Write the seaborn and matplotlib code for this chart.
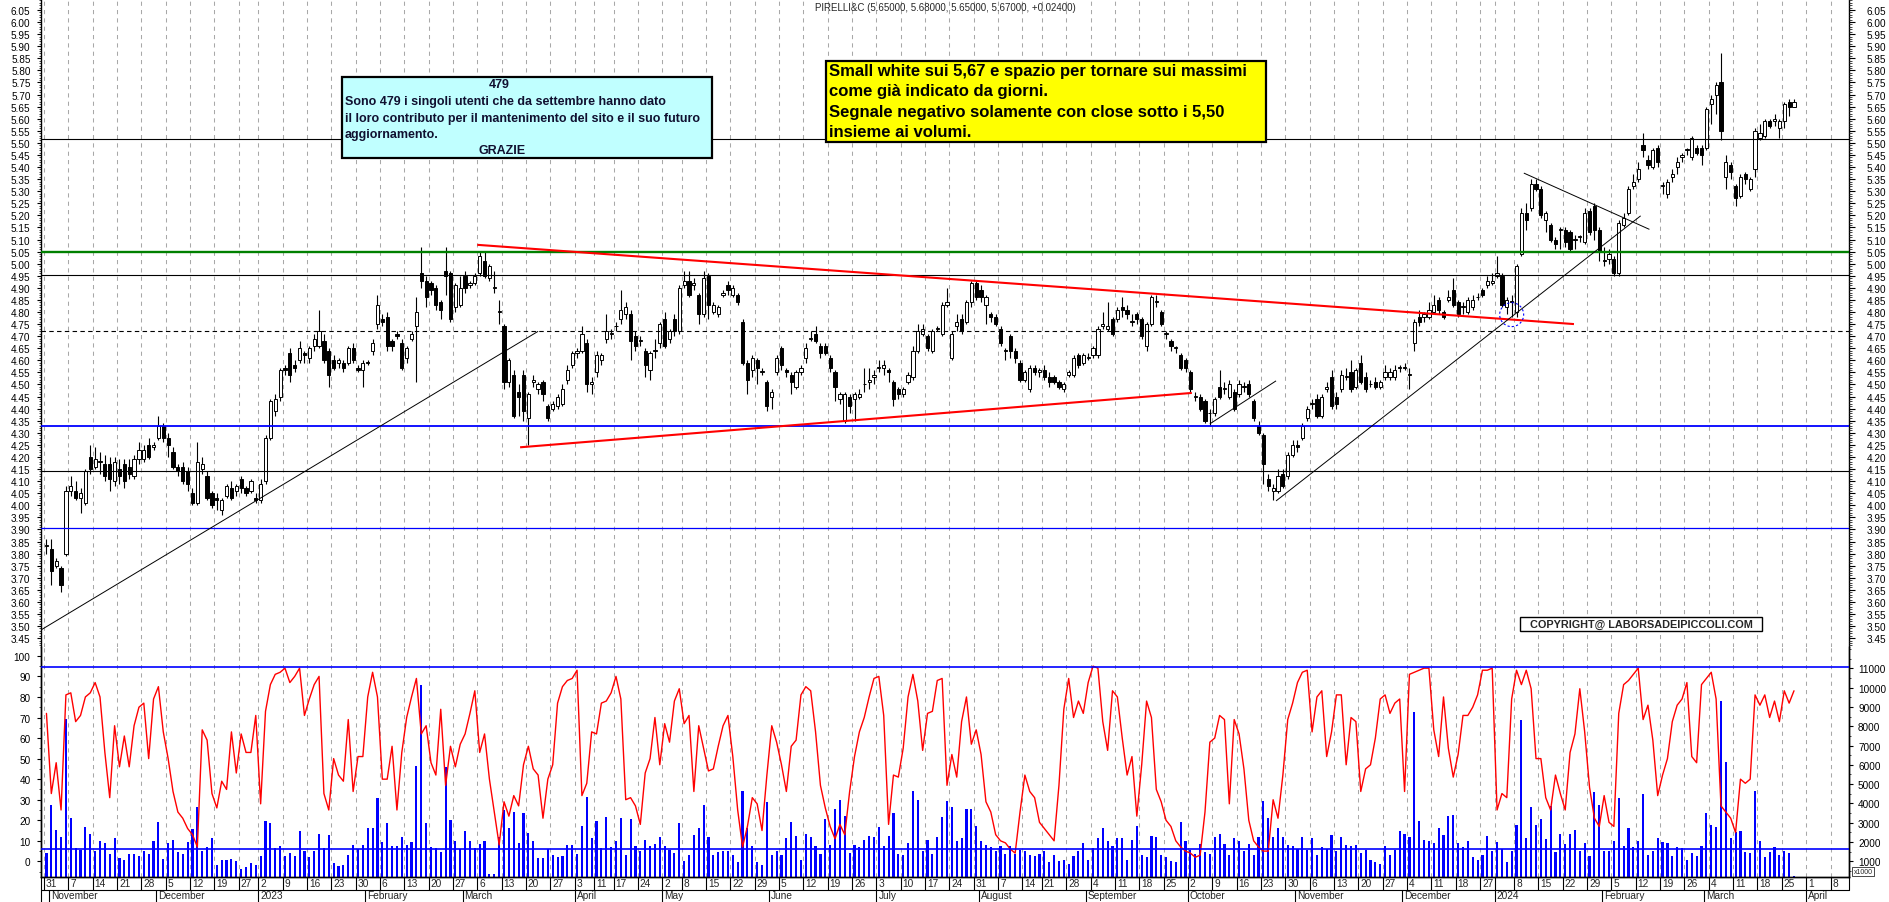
import numpy as np
import pandas as pd
import matplotlib
matplotlib.use("Agg")
import matplotlib.pyplot as plt
from matplotlib.patches import Rectangle, Ellipse
from matplotlib.ticker import MultipleLocator, FormatStrFormatter, FixedLocator
import seaborn as sns

# ==========================================
# Data (daily candles, 31 Oct 2022 - 27 Mar 2024)
# ==========================================

opens = [
    3.83, 3.82, 3.75, 3.74, 3.80, 4.06, 4.06, 4.03, 4.01, 4.20,
    4.16, 4.18, 4.17, 4.17, 4.10, 4.15, 4.17, 4.16, 4.12, 4.19,
    4.19, 4.25, 4.24, 4.28, 4.33, 4.28, 4.22, 4.16, 4.16, 4.14,
    4.05, 4.01, 4.15, 4.12, 4.05, 4.03, 3.98, 4.04, 4.07, 4.06,
    4.11, 4.07, 4.06, 4.03, 4.02, 4.10, 4.28, 4.39, 4.45, 4.57,
    4.63, 4.58, 4.60, 4.63, 4.61, 4.66, 4.66, 4.68, 4.64, 4.60,
    4.59, 4.59, 4.59, 4.65, 4.57, 4.56, 4.59, 4.64, 4.75, 4.77,
    4.78, 4.68, 4.71, 4.67, 4.61, 4.69, 4.74, 4.96, 4.93, 4.92,
    4.90, 4.84, 4.97, 4.96, 4.82, 4.83, 4.95, 4.91, 4.92, 4.96,
    5.01, 4.94, 4.90, 4.80, 4.74, 4.51, 4.54, 4.47, 4.54, 4.36,
    4.51, 4.48, 4.51, 4.41, 4.40, 4.41, 4.42, 4.52, 4.58, 4.63,
    4.64, 4.67, 4.50, 4.55, 4.60, 4.69, 4.71, 4.74, 4.77, 4.79,
    4.79, 4.70, 4.68, 4.64, 4.56, 4.64, 4.67, 4.77, 4.69, 4.77,
    4.72, 4.91, 4.93, 4.91, 4.87, 4.79, 4.95, 4.80, 4.79, 4.87,
    4.91, 4.87, 4.87, 4.76, 4.59, 4.56, 4.60, 4.55, 4.51, 4.45,
    4.55, 4.65, 4.56, 4.54, 4.49, 4.55, 4.61, 4.69, 4.71, 4.66,
    4.66, 4.61, 4.55, 4.44, 4.35, 4.45, 4.44, 4.45, 4.50, 4.51,
    4.53, 4.57, 4.57, 4.56, 4.51, 4.48, 4.46, 4.51, 4.53, 4.64,
    4.71, 4.70, 4.64, 4.73, 4.71, 4.83, 4.61, 4.74, 4.77, 4.76,
    4.84, 4.92, 4.89, 4.83, 4.79, 4.78, 4.73, 4.64, 4.70, 4.64,
    4.59, 4.52, 4.48, 4.57, 4.55, 4.56, 4.53, 4.53, 4.51, 4.48,
    4.54, 4.54, 4.62, 4.59, 4.61, 4.62, 4.62, 4.74, 4.73, 4.77,
    4.77, 4.82, 4.81, 4.76, 4.79, 4.77, 4.66, 4.75, 4.84, 4.80,
    4.71, 4.68, 4.65, 4.62, 4.60, 4.55, 4.45, 4.45, 4.43, 4.38,
    4.38, 4.49, 4.48, 4.45, 4.47, 4.46, 4.49, 4.50, 4.43, 4.33,
    4.29, 4.11, 4.06, 4.06, 4.13, 4.12, 4.21, 4.25, 4.28, 4.36,
    4.42, 4.44, 4.37, 4.48, 4.53, 4.45, 4.48, 4.53, 4.55, 4.49,
    4.59, 4.53, 4.50, 4.51, 4.49, 4.53, 4.53, 4.53, 4.57, 4.57,
    4.54, 4.67, 4.78, 4.78, 4.78, 4.80, 4.85, 4.80, 4.85, 4.89,
    4.84, 4.82, 4.80, 4.82, 4.86, 4.89, 4.91, 4.92, 4.95, 4.95,
    4.82, 4.84, 4.80, 5.04, 5.21, 5.23, 5.33, 5.31, 5.18, 5.16,
    5.10, 5.14, 5.14, 5.13, 5.10, 5.11, 5.09, 5.22, 5.24, 5.14,
    5.01, 5.02, 5.02, 4.96, 5.16, 5.21, 5.32, 5.35, 5.49, 5.43,
    5.40, 5.48, 5.32, 5.29, 5.36, 5.40, 5.44, 5.47, 5.44, 5.48,
    5.48, 5.48, 5.66, 5.70, 5.75, 5.36, 5.41, 5.32, 5.28, 5.37,
    5.31, 5.39, 5.52, 5.53, 5.59, 5.59, 5.56, 5.59, 5.67, 5.65,
]

highs = [
    3.86, 3.86, 3.78, 3.75, 4.08, 4.12, 4.10, 4.07, 4.15, 4.25,
    4.24, 4.22, 4.21, 4.20, 4.20, 4.19, 4.19, 4.19, 4.21, 4.26,
    4.25, 4.28, 4.26, 4.37, 4.34, 4.30, 4.24, 4.17, 4.18, 4.16,
    4.07, 4.26, 4.20, 4.14, 4.06, 4.05, 4.03, 4.09, 4.10, 4.09,
    4.12, 4.08, 4.11, 4.05, 4.11, 4.29, 4.44, 4.46, 4.57, 4.58,
    4.65, 4.60, 4.68, 4.64, 4.66, 4.71, 4.81, 4.71, 4.65, 4.62,
    4.61, 4.60, 4.66, 4.67, 4.58, 4.60, 4.60, 4.69, 4.87, 4.79,
    4.80, 4.69, 4.72, 4.69, 4.66, 4.72, 4.86, 5.07, 4.95, 4.93,
    4.91, 4.85, 5.07, 4.97, 4.92, 4.95, 4.97, 4.93, 4.96, 5.05,
    5.05, 5.00, 4.97, 4.85, 4.75, 4.61, 4.56, 4.50, 4.56, 4.47,
    4.54, 4.51, 4.52, 4.42, 4.43, 4.46, 4.50, 4.58, 4.64, 4.65,
    4.74, 4.69, 4.53, 4.64, 4.63, 4.79, 4.73, 4.76, 4.89, 4.84,
    4.81, 4.72, 4.70, 4.65, 4.64, 4.69, 4.76, 4.80, 4.73, 4.79,
    4.91, 4.97, 4.97, 4.94, 4.88, 4.97, 4.96, 4.84, 4.83, 4.89,
    4.93, 4.91, 4.88, 4.77, 4.60, 4.62, 4.61, 4.57, 4.52, 4.48,
    4.62, 4.66, 4.57, 4.55, 4.56, 4.58, 4.67, 4.72, 4.74, 4.67,
    4.67, 4.62, 4.56, 4.47, 4.47, 4.46, 4.47, 4.48, 4.57, 4.57,
    4.56, 4.60, 4.60, 4.57, 4.52, 4.49, 4.49, 4.55, 4.66, 4.75,
    4.75, 4.71, 4.73, 4.74, 4.84, 4.90, 4.72, 4.79, 4.79, 4.85,
    4.93, 4.93, 4.91, 4.87, 4.80, 4.79, 4.74, 4.65, 4.71, 4.65,
    4.60, 4.56, 4.58, 4.58, 4.57, 4.58, 4.55, 4.54, 4.52, 4.51,
    4.56, 4.62, 4.63, 4.63, 4.63, 4.66, 4.74, 4.80, 4.84, 4.78,
    4.82, 4.86, 4.83, 4.79, 4.80, 4.78, 4.76, 4.87, 4.87, 4.81,
    4.72, 4.69, 4.66, 4.63, 4.61, 4.56, 4.47, 4.46, 4.44, 4.40,
    4.45, 4.56, 4.51, 4.52, 4.48, 4.52, 4.51, 4.52, 4.44, 4.35,
    4.30, 4.13, 4.09, 4.15, 4.15, 4.22, 4.27, 4.27, 4.34, 4.41,
    4.44, 4.46, 4.46, 4.51, 4.56, 4.47, 4.56, 4.57, 4.60, 4.57,
    4.62, 4.55, 4.52, 4.53, 4.52, 4.58, 4.57, 4.58, 4.58, 4.59,
    4.57, 4.77, 4.81, 4.80, 4.84, 4.87, 4.86, 4.81, 4.89, 4.94,
    4.85, 4.84, 4.86, 4.87, 4.88, 4.90, 4.95, 4.96, 5.03, 4.96,
    4.86, 4.87, 5.00, 5.23, 5.25, 5.35, 5.35, 5.32, 5.22, 5.17,
    5.11, 5.15, 5.15, 5.14, 5.12, 5.12, 5.23, 5.23, 5.25, 5.15,
    5.07, 5.06, 5.03, 5.18, 5.21, 5.32, 5.37, 5.42, 5.54, 5.45,
    5.48, 5.49, 5.34, 5.35, 5.39, 5.44, 5.46, 5.48, 5.53, 5.49,
    5.49, 5.65, 5.70, 5.75, 5.87, 5.45, 5.42, 5.33, 5.37, 5.38,
    5.36, 5.56, 5.58, 5.60, 5.60, 5.62, 5.60, 5.67, 5.68, 5.68,
]

lows = [
    3.80, 3.67, 3.74, 3.64, 3.79, 4.04, 4.02, 3.97, 4.00, 4.13,
    4.15, 4.13, 4.10, 4.06, 4.08, 4.09, 4.07, 4.11, 4.11, 4.17,
    4.18, 4.19, 4.23, 4.27, 4.26, 4.20, 4.15, 4.12, 4.09, 4.06,
    4.00, 4.00, 4.13, 4.02, 3.99, 3.98, 3.96, 4.03, 4.02, 4.04,
    4.05, 4.04, 4.05, 4.01, 4.01, 4.09, 4.27, 4.37, 4.43, 4.54,
    4.51, 4.55, 4.59, 4.59, 4.59, 4.64, 4.65, 4.59, 4.49, 4.56,
    4.57, 4.55, 4.58, 4.59, 4.55, 4.49, 4.58, 4.62, 4.73, 4.74,
    4.64, 4.64, 4.69, 4.56, 4.59, 4.68, 4.51, 4.90, 4.82, 4.87,
    4.81, 4.77, 4.87, 4.76, 4.80, 4.82, 4.88, 4.90, 4.91, 4.95,
    4.94, 4.93, 4.88, 4.75, 4.48, 4.49, 4.36, 4.37, 4.35, 4.25,
    4.49, 4.46, 4.43, 4.35, 4.39, 4.40, 4.41, 4.50, 4.57, 4.61,
    4.63, 4.47, 4.46, 4.53, 4.58, 4.67, 4.69, 4.72, 4.75, 4.77,
    4.60, 4.64, 4.66, 4.53, 4.52, 4.61, 4.65, 4.65, 4.67, 4.70,
    4.71, 4.90, 4.86, 4.89, 4.75, 4.78, 4.77, 4.79, 4.78, 4.86,
    4.87, 4.86, 4.83, 4.58, 4.46, 4.53, 4.50, 4.54, 4.39, 4.40,
    4.54, 4.56, 4.53, 4.46, 4.48, 4.54, 4.59, 4.68, 4.67, 4.61,
    4.62, 4.55, 4.43, 4.42, 4.34, 4.38, 4.35, 4.44, 4.47, 4.48,
    4.50, 4.55, 4.54, 4.51, 4.41, 4.44, 4.45, 4.50, 4.52, 4.63,
    4.70, 4.64, 4.63, 4.72, 4.70, 4.82, 4.60, 4.72, 4.71, 4.75,
    4.82, 4.85, 4.84, 4.75, 4.76, 4.74, 4.66, 4.60, 4.61, 4.59,
    4.51, 4.51, 4.47, 4.54, 4.53, 4.52, 4.49, 4.50, 4.48, 4.47,
    4.53, 4.53, 4.57, 4.58, 4.60, 4.61, 4.61, 4.73, 4.72, 4.70,
    4.76, 4.78, 4.77, 4.74, 4.75, 4.69, 4.64, 4.74, 4.82, 4.74,
    4.69, 4.64, 4.63, 4.56, 4.55, 4.47, 4.43, 4.39, 4.34, 4.33,
    4.37, 4.44, 4.46, 4.44, 4.39, 4.45, 4.47, 4.45, 4.35, 4.29,
    4.09, 4.06, 4.02, 4.05, 4.07, 4.11, 4.20, 4.22, 4.27, 4.35,
    4.40, 4.36, 4.36, 4.47, 4.40, 4.40, 4.47, 4.52, 4.47, 4.48,
    4.50, 4.47, 4.49, 4.48, 4.48, 4.52, 4.52, 4.52, 4.55, 4.56,
    4.48, 4.64, 4.74, 4.76, 4.77, 4.79, 4.79, 4.77, 4.84, 4.82,
    4.78, 4.79, 4.79, 4.81, 4.85, 4.86, 4.90, 4.91, 4.94, 4.82,
    4.79, 4.78, 4.78, 5.03, 5.14, 5.22, 5.30, 5.19, 5.13, 5.09,
    5.06, 5.06, 5.07, 5.05, 5.06, 5.09, 5.08, 5.12, 5.10, 5.01,
    4.99, 5.00, 4.95, 4.95, 5.15, 5.20, 5.31, 5.34, 5.44, 5.39,
    5.39, 5.40, 5.29, 5.27, 5.34, 5.37, 5.42, 5.45, 5.43, 5.45,
    5.41, 5.47, 5.58, 5.62, 5.51, 5.31, 5.35, 5.24, 5.27, 5.33,
    5.30, 5.36, 5.51, 5.52, 5.56, 5.57, 5.52, 5.56, 5.61, 5.65,
]

closes = [
    3.83, 3.73, 3.77, 3.67, 4.06, 4.08, 4.03, 4.05, 4.14, 4.15,
    4.19, 4.18, 4.12, 4.11, 4.18, 4.12, 4.10, 4.13, 4.19, 4.23,
    4.23, 4.20, 4.25, 4.33, 4.28, 4.25, 4.16, 4.14, 4.10, 4.09,
    4.01, 4.18, 4.17, 4.03, 4.00, 4.02, 4.02, 4.08, 4.03, 4.08,
    4.07, 4.05, 4.10, 4.02, 4.09, 4.28, 4.43, 4.44, 4.56, 4.56,
    4.54, 4.57, 4.65, 4.62, 4.65, 4.69, 4.72, 4.60, 4.54, 4.57,
    4.60, 4.57, 4.65, 4.60, 4.56, 4.59, 4.59, 4.67, 4.83, 4.76,
    4.66, 4.66, 4.70, 4.57, 4.65, 4.71, 4.80, 4.93, 4.86, 4.89,
    4.83, 4.81, 4.95, 4.77, 4.91, 4.90, 4.90, 4.92, 4.95, 5.03,
    4.95, 4.99, 4.90, 4.80, 4.51, 4.60, 4.37, 4.45, 4.39, 4.46,
    4.52, 4.50, 4.46, 4.36, 4.42, 4.45, 4.48, 4.56, 4.63, 4.64,
    4.71, 4.50, 4.51, 4.62, 4.62, 4.72, 4.71, 4.74, 4.81, 4.82,
    4.68, 4.66, 4.68, 4.58, 4.63, 4.64, 4.75, 4.66, 4.72, 4.72,
    4.90, 4.93, 4.87, 4.92, 4.79, 4.94, 4.83, 4.83, 4.82, 4.88,
    4.89, 4.90, 4.84, 4.59, 4.52, 4.61, 4.57, 4.55, 4.41, 4.47,
    4.61, 4.58, 4.55, 4.51, 4.55, 4.57, 4.65, 4.69, 4.68, 4.63,
    4.63, 4.57, 4.49, 4.46, 4.46, 4.41, 4.46, 4.46, 4.50, 4.52,
    4.54, 4.57, 4.58, 4.55, 4.44, 4.46, 4.48, 4.54, 4.64, 4.72,
    4.73, 4.65, 4.72, 4.73, 4.83, 4.84, 4.71, 4.76, 4.72, 4.84,
    4.92, 4.86, 4.86, 4.86, 4.78, 4.75, 4.67, 4.64, 4.64, 4.61,
    4.52, 4.55, 4.57, 4.55, 4.56, 4.53, 4.51, 4.51, 4.49, 4.50,
    4.55, 4.61, 4.58, 4.62, 4.61, 4.65, 4.73, 4.75, 4.74, 4.71,
    4.81, 4.81, 4.79, 4.76, 4.77, 4.70, 4.75, 4.86, 4.84, 4.75,
    4.71, 4.66, 4.65, 4.57, 4.57, 4.48, 4.45, 4.40, 4.35, 4.38,
    4.44, 4.45, 4.48, 4.50, 4.40, 4.50, 4.49, 4.46, 4.36, 4.30,
    4.17, 4.08, 4.07, 4.12, 4.08, 4.21, 4.25, 4.24, 4.33, 4.40,
    4.42, 4.37, 4.45, 4.49, 4.41, 4.42, 4.54, 4.53, 4.48, 4.56,
    4.51, 4.48, 4.50, 4.49, 4.51, 4.55, 4.55, 4.56, 4.57, 4.57,
    4.54, 4.76, 4.76, 4.79, 4.81, 4.83, 4.81, 4.78, 4.86, 4.83,
    4.79, 4.82, 4.85, 4.85, 4.86, 4.87, 4.93, 4.93, 4.96, 4.83,
    4.85, 4.84, 4.99, 5.21, 5.18, 5.33, 5.31, 5.20, 5.21, 5.10,
    5.08, 5.14, 5.09, 5.06, 5.10, 5.11, 5.21, 5.13, 5.14, 5.05,
    5.01, 5.04, 4.96, 5.17, 5.19, 5.31, 5.34, 5.39, 5.47, 5.41,
    5.47, 5.42, 5.32, 5.34, 5.37, 5.42, 5.45, 5.47, 5.52, 5.46,
    5.45, 5.64, 5.68, 5.74, 5.55, 5.42, 5.38, 5.27, 5.36, 5.35,
    5.35, 5.55, 5.54, 5.59, 5.57, 5.60, 5.59, 5.66, 5.65, 5.67,
]

# volume, in the right-axis units (x1000)
volumes = [
    1430, 3920, 2640, 2270, 8370, 3240, 1670, 1600, 2760, 2400,
    1550, 2030, 1930, 1380, 2190, 1170, 1080, 1380, 1380, 1270,
    1520, 1380, 2030, 3020, 1120, 1950, 2090, 1460, 1380, 2020,
    2670, 3800, 1530, 1720, 2190, 820, 1070, 1070, 1120, 1000,
    600, 690, 890, 810, 1260, 3070, 2980, 1670, 1770, 1290,
    1430, 1290, 2570, 1520, 1200, 1530, 2410, 1670, 2360, 890,
    740, 810, 1330, 1840, 1640, 1840, 2710, 2710, 4280, 1980,
    2980, 1770, 1810, 2270, 1840, 1980, 5920, 10130, 2980, 1720,
    1670, 1500, 5900, 3160, 2030, 1640, 2550, 2030, 1670, 1900,
    2070, 320, 320, 2240, 3670, 2710, 3540, 1950, 3500, 2470,
    2050, 1190, 1190, 1640, 1330, 1200, 1290, 1840, 1840, 1360,
    2840, 4350, 2220, 3100, 1690, 3280, 1720, 2070, 3240, 1330,
    3190, 1770, 1550, 2100, 1770, 1890, 2270, 1770, 1600, 1430,
    2980, 1030, 1320, 2360, 2710, 3910, 2240, 1320, 1460, 1550,
    1530, 1320, 940, 4660, 2710, 1770, 980, 810, 4090, 1320,
    1550, 1320, 2190, 3050, 2290, 1070, 2410, 2270, 1770, 1380,
    3190, 1840, 3710, 4170, 3360, 1430, 1840, 1720, 2120, 2290,
    2270, 2760, 1770, 2330, 3500, 1380, 1320, 1950, 4660, 4170,
    1550, 2120, 1380, 2240, 3280, 4100, 3830, 2050, 2190, 3710,
    3710, 2810, 2070, 1840, 1720, 1530, 1770, 1380, 1770, 1380,
    1600, 1530, 1320, 1290, 1380, 1530, 980, 1320, 1030, 1070,
    860, 1290, 1530, 1950, 1070, 1670, 2190, 2710, 2070, 1770,
    2220, 2190, 1080, 2120, 2810, 1320, 1200, 2290, 2270, 1320,
    1200, 1030, 980, 3050, 2070, 1600, 1380, 1890, 1460, 1380,
    2240, 2410, 1890, 1320, 2220, 2070, 1510, 1890, 1320, 2240,
    4140, 3220, 2240, 2710, 2240, 1840, 1770, 1640, 2260, 1600,
    2220, 1330, 1720, 1640, 2360, 1520, 2240, 1840, 1810, 1860,
    1410, 1600, 1070, 980, 860, 1810, 1330, 1600, 2590, 2410,
    2270, 8720, 3070, 2120, 2030, 1930, 2710, 2360, 3360, 3400,
    1930, 1720, 2070, 1240, 1070, 1330, 2330, 1550, 1980, 1640,
    950, 1550, 2880, 8320, 2210, 3800, 2880, 3190, 2150, 3880,
    1500, 2410, 1880, 2410, 2640, 1520, 1950, 1260, 4570, 3930,
    1550, 1520, 2030, 4300, 1810, 2710, 1720, 2030, 4490, 1330,
    1550, 2220, 2020, 1950, 1260, 1720, 1670, 1070, 1430, 1260,
    1810, 3480, 2900, 2790, 9320, 6160, 2210, 2530, 2550, 1460,
    1430, 4660, 2070, 1200, 1460, 1760, 1330, 1520, 1430, 250,
]

# oscillator (red line, left axis of the lower panel)
oscillator = [
    72, 33, 48, 25, 81, 82, 68, 71, 80, 82,
    87, 80, 53, 31, 66, 46, 61, 46, 66, 75,
    77, 50, 79, 85, 63, 50, 34, 24, 21, 16,
    13, 7, 64, 59, 33, 26, 39, 35, 63, 43,
    62, 53, 53, 71, 28, 73, 86, 91, 92, 94,
    87, 90, 94, 71, 79, 86, 90, 33, 25, 50,
    42, 39, 69, 34, 51, 51, 80, 92, 80, 40,
    40, 56, 25, 53, 70, 80, 89, 62, 66, 48,
    42, 74, 37, 56, 46, 57, 62, 72, 83, 53,
    62, 40, 24, 8, 29, 22, 32, 27, 47, 56,
    45, 42, 21, 40, 47, 77, 85, 88, 89, 93,
    32, 38, 63, 62, 77, 78, 82, 90, 79, 30,
    31, 27, 18, 43, 50, 70, 47, 67, 58, 78,
    84, 67, 71, 34, 66, 55, 44, 45, 56, 66,
    71, 51, 25, 7, 17, 31, 28, 15, 42, 66,
    58, 47, 34, 56, 59, 81, 85, 83, 63, 37,
    26, 17, 11, 18, 13, 34, 51, 63, 70, 80,
    89, 90, 71, 18, 42, 41, 55, 80, 91, 78,
    54, 72, 73, 88, 89, 37, 52, 41, 68, 80,
    57, 64, 52, 29, 24, 13, 10, 9, 6, 4,
    24, 42, 34, 31, 19, 16, 13, 10, 37, 74,
    89, 70, 78, 72, 87, 95, 94, 68, 54, 83,
    80, 60, 42, 51, 22, 47, 78, 70, 35, 29,
    20, 17, 10, 7, 5, 4, 2, 3, 24, 58,
    60, 71, 69, 28, 69, 62, 45, 20, 10, 7,
    5, 5, 30, 21, 42, 69, 77, 87, 92, 93,
    63, 80, 83, 51, 63, 81, 81, 47, 70, 68,
    34, 45, 47, 60, 79, 81, 72, 77, 79, 34,
    91, 92, 93, 94, 94, 64, 51, 80, 55, 41,
    52, 71, 71, 75, 81, 93, 93, 94, 25, 33,
    31, 79, 93, 86, 93, 84, 50, 50, 31, 25,
    42, 33, 25, 53, 62, 84, 63, 36, 21, 17,
    32, 19, 17, 72, 86, 88, 91, 94, 69, 76,
    59, 32, 42, 50, 68, 76, 79, 87, 51, 48,
    86, 89, 92, 79, 27, 24, 21, 14, 40, 38,
    40, 81, 76, 81, 70, 78, 68, 83, 77, 83,
]

holidays = ["2022-12-26", "2023-04-07", "2023-04-10", "2023-05-01",
            "2023-08-15", "2023-12-25", "2023-12-26", "2024-01-01"]

# horizontal levels: price, colour, width, style
levels = [
    (5.515, "black", 0.8, "-"),
    (5.05, "#008000", 1.7, "-"),
    (4.955, "black", 0.8, "-"),
    (4.72, "black", 0.8, (0, (4, 3))),
    (4.328, "#0000FF", 1.3, "-"),
    (4.142, "black", 0.8, "-"),
    (3.904, "#0000FF", 0.9, "-"),
]

# trend lines: (x0, y0, x1, y1, colour, width)
trend_lines = [
    (-1.12, 3.484, 101.0, 4.72, "black", 0.7),
    (88.5, 5.078, 313.8, 4.75, "#FF0000", 1.5),
    (97.3, 4.24, 235.3, 4.465, "#FF0000", 1.5),
    (239.0, 4.337, 252.6, 4.515, "black", 0.7),
    (252.6, 4.018, 327.5, 5.198, "black", 0.7),
    (303.5, 5.375, 329.3, 5.142, "black", 0.7),
]

title = "PIRELLI&C (5.65000, 5.68000, 5.65000, 5.67000, +0.02400)"
info_lines = ["Sono 479 i singoli utenti che da settembre hanno dato",
              "il loro contributo per il mantenimento del sito e il suo futuro",
              "aggiornamento."]
note_lines = ["Small white sui 5,67 e spazio per tornare sui massimi",
              "come già indicato da giorni.",
              "Segnale negativo solamente con close sotto i 5,50",
              "insieme ai volumi."]

# ==========================================
# Setup
# ==========================================

sns.set_style("white")
plt.rcParams["font.family"] = ["Liberation Sans", "DejaVu Sans"]

days = pd.bdate_range("2022-10-31", "2024-03-27")
days = days[~days.isin(pd.to_datetime(holidays))]
future = pd.bdate_range("2024-03-28", "2024-04-12")
cal = days.append(future)

o = np.array(opens)
h = np.array(highs)
l = np.array(lows)
c = np.array(closes)
xs = np.arange(len(o))

W, H = 1890, 903
fig = plt.figure(figsize=(W / 100, H / 100), dpi=100)


def fx(px):
    return px / W


def fy(py):
    return 1 - py / H


LEFT, RIGHT = 41, 1849
XMIN, XMAX = -1.12, 370.3

ax = fig.add_axes([fx(LEFT), fy(648), fx(RIGHT) - fx(LEFT), fy(0) - fy(648)])
axv = fig.add_axes([fx(LEFT), fy(878), fx(RIGHT) - fx(LEFT), fy(648) - fy(878)], sharex=ax)
axo = axv.twinx()

# week / month starts on the trading calendar
week_first, month_first = [], []
prev_w, prev_m = None, None
for i, d in enumerate(cal):
    kw = tuple(d.isocalendar())[:2]
    km = (d.year, d.month)
    if kw != prev_w:
        week_first.append(i)
        prev_w = kw
    if km != prev_m:
        if i > 0:
            month_first.append(i)
        prev_m = km

# dashed vertical grid on week starts
for i in week_first:
    for a in (ax, axv):
        a.axvline(i - 0.5, color="#A8A8A8", lw=0.75, ls=(0, (4, 4)), zorder=0)

# ==========================================
# Price panel
# ==========================================

up = c >= o
body_lo = np.minimum(o, c)
body_h = np.maximum(np.abs(c - o), 0.004)
ax.vlines(xs, l, h, color="black", lw=0.8, zorder=2)
ax.bar(xs, body_h, bottom=body_lo, width=0.66,
       color=np.where(up, "white", "black"), edgecolor="black",
       linewidth=0.7, zorder=3)

for y, col, lw, ls in levels:
    ax.axhline(y, color=col, lw=lw, ls=ls, zorder=4)

for x0, y0, x1, y1, col, lw in trend_lines:
    ax.plot([x0, x1], [y0, y1], color=col, lw=lw, zorder=5, solid_capstyle="butt")

ax.add_patch(Ellipse((301, 4.789), width=4.93, height=0.099, fill=False,
                     edgecolor="#0000FF", lw=0.8, ls=(0, (2, 2)), zorder=6))

PMIN, PMAX = 3.4134, 6.0955
price_ticks = np.round(np.arange(3.45, 6.0501, 0.05), 2)
ax.set_ylim(PMIN, PMAX)
ax.yaxis.set_major_locator(FixedLocator(price_ticks))
ax.yaxis.set_minor_locator(MultipleLocator(0.01))
ax.yaxis.set_major_formatter(FormatStrFormatter("%.2f"))
ax.tick_params(axis="y", which="major", direction="out", length=3, width=0.8,
               labelsize=7.2, pad=4.5, colors="black")
ax.tick_params(axis="y", which="minor", direction="out", length=1.5, width=0.6)

ax_r = ax.twinx()
ax_r.set_ylim(PMIN, PMAX)
ax_r.yaxis.set_major_locator(FixedLocator(price_ticks))
ax_r.yaxis.set_minor_locator(MultipleLocator(0.01))
ax_r.yaxis.set_major_formatter(FormatStrFormatter("%.2f"))
ax_r.tick_params(axis="y", which="major", direction="out", length=4, width=0.8,
                 labelsize=7.2, pad=8.5, colors="black")
ax_r.tick_params(axis="y", which="minor", direction="out", length=2, width=0.6)
for s in ax_r.spines.values():
    s.set_visible(False)

for s in ("top", "bottom"):
    ax.spines[s].set_visible(False)
for s in ("left", "right"):
    ax.spines[s].set_color("black")
    ax.spines[s].set_linewidth(1)

# ==========================================
# Lower panel: volume (right axis) + oscillator (left axis)
# ==========================================

axv.bar(xs, volumes, width=0.44, color="#0000FF", linewidth=0,
        antialiased=False, zorder=2)
axv.set_ylim(187, 12104)
axv.yaxis.set_ticks_position("right")
axv.yaxis.set_label_position("right")
axv.yaxis.set_major_locator(FixedLocator(list(range(1000, 11001, 1000))))
axv.yaxis.set_minor_locator(MultipleLocator(500))
axv.yaxis.set_major_formatter(FormatStrFormatter("%d"))
axv.tick_params(axis="y", which="both", left=False, labelleft=False,
                right=True, labelright=True)
axv.tick_params(axis="y", which="major", direction="out", length=3, width=0.8,
                labelsize=7.2, pad=3.5, colors="black")
axv.tick_params(axis="y", which="minor", direction="out", length=1.5, width=0.6)

sns.lineplot(x=xs, y=oscillator, ax=axo, color="#FF0000", linewidth=1.0, zorder=3)
axo.axhline(94.7, color="#0000FF", lw=1.2, zorder=4)
axo.axhline(6.0, color="#0000FF", lw=1.2, zorder=4)
axo.set_ylim(-7.6, 104.3)
axo.yaxis.set_ticks_position("left")
axo.yaxis.set_label_position("left")
axo.yaxis.set_major_locator(FixedLocator(list(range(0, 101, 10))))
axo.yaxis.set_minor_locator(MultipleLocator(5))
axo.yaxis.set_major_formatter(FormatStrFormatter("%d"))
axo.tick_params(axis="y", which="both", left=True, labelleft=True,
                right=False, labelright=False)
axo.tick_params(axis="y", which="major", direction="out", length=3, width=0.8,
                labelsize=7.2, pad=4.5, colors="black")
axo.tick_params(axis="y", which="minor", direction="out", length=1.5, width=0.6)
axo.set_xlabel("")
axo.set_ylabel("")

for a in (axv, axo):
    a.spines["top"].set_visible(False)
    for s in ("left", "right", "bottom"):
        a.spines[s].set_color("black")
        a.spines[s].set_linewidth(1)

for a in (ax, ax_r, axv, axo):
    a.tick_params(axis="x", which="both", bottom=False, top=False,
                  labelbottom=False, labeltop=False)
ax.set_xlim(XMIN, XMAX)

# ==========================================
# Date axis (two rows under the lower panel)
# ==========================================

trans = axv.get_xaxis_transform()
ROW = (878 - 891) / 230
BOT = (878 - 903) / 230
line_kw = dict(transform=trans, color="black", lw=0.8, clip_on=False)
axv.plot([XMIN, XMAX], [ROW, ROW], **line_kw)
axv.plot([XMIN, XMIN], [0, BOT], **line_kw)
axv.plot([XMAX, XMAX], [0, ROW], **line_kw)

for i in week_first:
    axv.plot([i - 0.5, i - 0.5], [0, ROW], **line_kw)
    d = cal[i]
    if d == pd.Timestamp("2024-01-02"):
        continue
    axv.text(i - 0.1, ROW / 2, str(d.day), transform=trans, fontsize=7.3,
             ha="left", va="center", clip_on=False)

for i in month_first:
    axv.plot([i - 0.5, i - 0.5], [ROW, BOT], **line_kw)
    d = cal[i]
    label = str(d.year) if d.month == 1 else d.strftime("%B")
    axv.text(i - 0.1, (ROW + BOT) / 2 + 0.004, label, transform=trans,
             fontsize=7.3, ha="left", va="center", clip_on=False)

# ==========================================
# Text boxes and labels
# ==========================================


def box(x0, y0, x1, y1, fc, lw):
    fig.add_artist(Rectangle((fx(x0), fy(y1)), fx(x1) - fx(x0), fy(y0) - fy(y1),
                             transform=fig.transFigure, facecolor=fc,
                             edgecolor="black", lw=lw, zorder=10))


box(342, 78, 712, 159, "#C0FFFF", 1.6)
fig.text(fx(499), fy(85), "479", ha="center", va="center", fontsize=9,
         fontweight="bold", color="#101030", zorder=11)
for k, s in enumerate(info_lines):
    fig.text(fx(345), fy(102 + 16.6 * k), s, ha="left", va="center",
             fontsize=9, fontweight="bold", color="#101030", zorder=11)
fig.text(fx(502), fy(151), "GRAZIE", ha="center", va="center", fontsize=9,
         fontweight="bold", color="#101030", zorder=11)

box(826, 62, 1266, 143, "#FFFF00", 1.6)
for k, s in enumerate(note_lines):
    fig.text(fx(829), fy(71.5 + 20.4 * k), s, ha="left", va="center",
             fontsize=12, fontweight="bold", color="black", zorder=11)

box(1520, 618, 1762, 632, "white", 1.0)
fig.text(fx(1641), fy(625), "COPYRIGHT@ LABORSADEIPICCOLI.COM", ha="center",
         va="center", fontsize=7.8, fontweight="bold", zorder=11)

fig.text(0.5, fy(8), title, ha="center", va="center", fontsize=7)

fig.text(fx(1863), fy(872.5), "x1000", ha="center", va="center", fontsize=5,
         bbox=dict(facecolor="white", edgecolor="black", lw=0.5, pad=0.8))

fig.savefig("out.png", dpi=100)
print("saved out.png", len(days), len(o))
